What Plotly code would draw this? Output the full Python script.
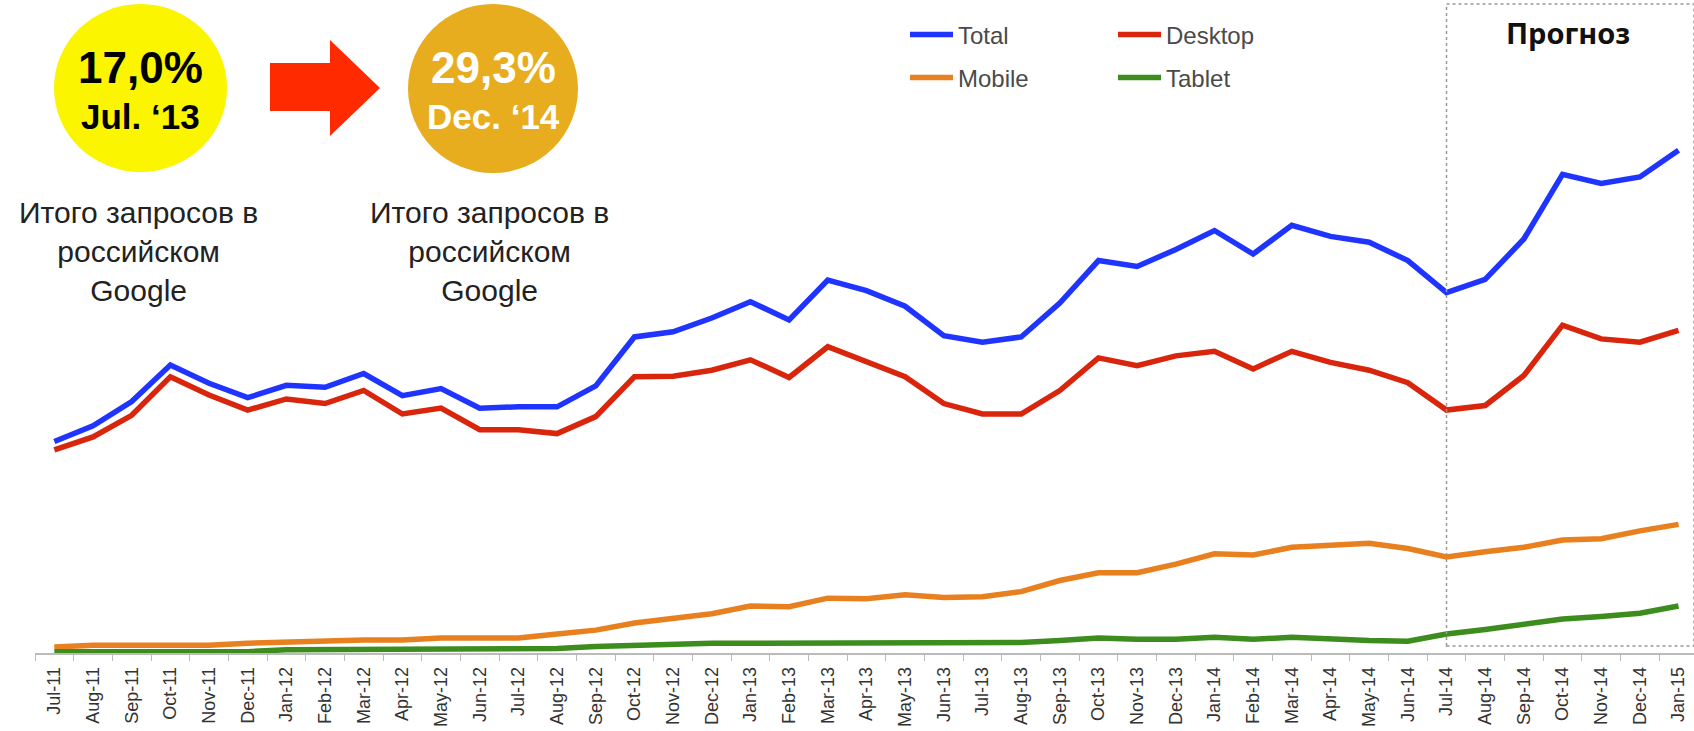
import plotly.graph_objects as go

months = ["Jul-11", "Aug-11", "Sep-11", "Oct-11", "Nov-11", "Dec-11",
          "Jan-12", "Feb-12", "Mar-12", "Apr-12", "May-12", "Jun-12",
          "Jul-12", "Aug-12", "Sep-12", "Oct-12", "Nov-12", "Dec-12",
          "Jan-13", "Feb-13", "Mar-13", "Apr-13", "May-13", "Jun-13",
          "Jul-13", "Aug-13", "Sep-13", "Oct-13", "Nov-13", "Dec-13",
          "Jan-14", "Feb-14", "Mar-14", "Apr-14", "May-14", "Jun-14",
          "Jul-14", "Aug-14", "Sep-14", "Oct-14", "Nov-14", "Dec-14",
          "Jan-15"]

total = [32.4, 34.8, 38.5, 44.1, 41.3, 39.1, 41.0, 40.7, 42.8, 39.4, 40.5, 37.5,
         37.7, 37.7, 40.9, 48.4, 49.2, 51.3, 53.8, 51.0, 57.1, 55.5, 53.1, 48.6,
         47.6, 48.4, 53.6, 60.1, 59.2, 61.8, 64.7, 61.1, 65.5, 63.8, 62.9, 60.1,
         55.2, 57.2, 63.4, 73.3, 71.9, 72.9, 77.0]
desktop = [31.1, 33.1, 36.4, 42.3, 39.5, 37.2, 38.9, 38.2, 40.2, 36.6, 37.5, 34.2,
           34.2, 33.6, 36.2, 42.3, 42.4, 43.3, 44.9, 42.2, 46.9, 44.7, 42.3, 38.2,
           36.6, 36.6, 40.2, 45.2, 44.0, 45.5, 46.2, 43.5, 46.2, 44.5, 43.3, 41.4,
           37.2, 37.9, 42.5, 50.2, 48.1, 47.6, 49.4]
mobile = [0.9, 1.2, 1.2, 1.2, 1.2, 1.5, 1.7, 1.7, 2.0, 2.0, 2.3, 2.3,
          2.3, 2.9, 3.5, 4.6, 5.2, 6.0, 7.2, 7.1, 8.4, 8.3, 8.9, 8.5,
          8.6, 9.4, 11.1, 12.3, 12.3, 13.6, 15.2, 15.0, 16.2, 16.6, 16.8, 16.0,
          14.7, 15.5, 16.2, 17.3, 17.5, 18.7, 19.7]
tablet = [0.2, 0.2, 0.2, 0.2, 0.2, 0.2, 0.5, 0.5, 0.5, 0.5, 0.5, 0.5,
          0.6, 0.7, 1.0, 1.2, 1.2, 1.5, 1.5, 1.5, 1.7, 1.6, 1.6, 1.6,
          1.6, 1.6, 1.9, 2.3, 2.1, 2.1, 2.4, 2.1, 2.4, 2.1, 1.9, 1.8,
          2.9, 3.6, 4.4, 5.2, 5.6, 6.1, 7.2]

W, H = 1694, 731
ML, MR, MT, MB = 35, 0, 0, 78
PW, PH = W - ML - MR, H - MT - MB


def px(x):
    return (x - ML) / PW


def py(y):
    return (H - MB - y) / PH


fig = go.Figure()
series = [("Total", total, "#1f35ff", "legend"),
          ("Desktop", desktop, "#d8250c", "legend"),
          ("Mobile", mobile, "#e8801f", "legend2"),
          ("Tablet", tablet, "#3c8d1e", "legend2")]
for name, vals, col, lg in series:
    fig.add_trace(go.Scatter(x=months, y=vals, mode="lines", name=name,
                             line=dict(color=col, width=5.5), legend=lg,
                             hoverinfo="skip"))

legend_common = dict(orientation="h", xanchor="left", yanchor="middle",
                     entrywidth=150, entrywidthmode="pixels",
                     font=dict(family="Liberation Sans, Arial", size=24, color="#4a4a4a"),
                     bgcolor="rgba(0,0,0,0)", itemwidth=43, itemclick=False)

shapes = []
# forecast box
shapes.append(dict(type="rect", xref="x", yref="paper", x0=36, x1=42.4,
                   y0=py(646), y1=py(4), line=dict(color="#999", width=1.5, dash="dot")))
# circles
shapes.append(dict(type="circle", xref="paper", yref="paper", x0=px(54), x1=px(227),
                   y0=py(172), y1=py(4), fillcolor="#fbf500", line=dict(width=0), layer="above"))
shapes.append(dict(type="circle", xref="paper", yref="paper", x0=px(408), x1=px(578),
                   y0=py(173), y1=py(4), fillcolor="#e8ad1e", line=dict(width=0), layer="above"))
# arrow
pts = [(270, 63), (330, 63), (330, 40), (380, 88), (330, 136), (330, 111), (270, 111)]
path = "M " + " L ".join(f"{px(a):.5f},{py(b):.5f}" for a, b in pts) + " Z"
shapes.append(dict(type="path", xref="paper", yref="paper", path=path,
                   fillcolor="#ff2a00", line=dict(width=0), layer="above"))

ann = []
def A(text, x, y, size, color="#000", bold=False, family="Liberation Sans, Arial"):
    t = f"<b>{text}</b>" if bold else text
    ann.append(dict(text=t, x=px(x), y=py(y), xref="paper", yref="paper",
                    showarrow=False, xanchor="center", yanchor="middle",
                    font=dict(family=family, size=size, color=color)))

A("17,0%", 140, 68, 44, "#000", True)
A("Jul. ‘13", 140, 116, 35, "#000", True)
A("29,3%", 493, 68, 44, "#fff", True)
A("Dec. ‘14", 493, 116, 35, "#fff", True)
A("Итого запросов в<br>российском<br>Google", 138, 251, 30, "#222")
A("Итого запросов в<br>российском<br>Google", 490, 251, 30, "#222")
A("Прогноз", 1568, 32, 29, "#111", True, "Noto Sans")

fig.update_layout(
    width=W, height=H,
    margin=dict(l=ML, r=MR, t=MT, b=MB),
    paper_bgcolor="white", plot_bgcolor="white",
    showlegend=True,
    legend=dict(x=px(905), y=py(35), **legend_common),
    legend2=dict(x=px(905), y=py(78), **legend_common),
    xaxis=dict(type="category", range=[-0.5, 42.4], showgrid=False, zeroline=False,
               showline=True, linecolor="#bbb", linewidth=1.5,
               ticks="outside", ticklen=6, tickcolor="#bbb", tickson="boundaries",
               tickangle=-90, automargin=False, ticklabelstandoff=5,
               tickfont=dict(family="Liberation Sans, Arial", size=18, color="#333")),
    yaxis=dict(visible=False, range=[0, 100], showgrid=False, zeroline=False),
    shapes=shapes, annotations=ann,
)

fig.write_html("out.html", config={"displayModeBar": False},
               post_script="document.body.style.margin='0';document.body.style.overflow='hidden';")
